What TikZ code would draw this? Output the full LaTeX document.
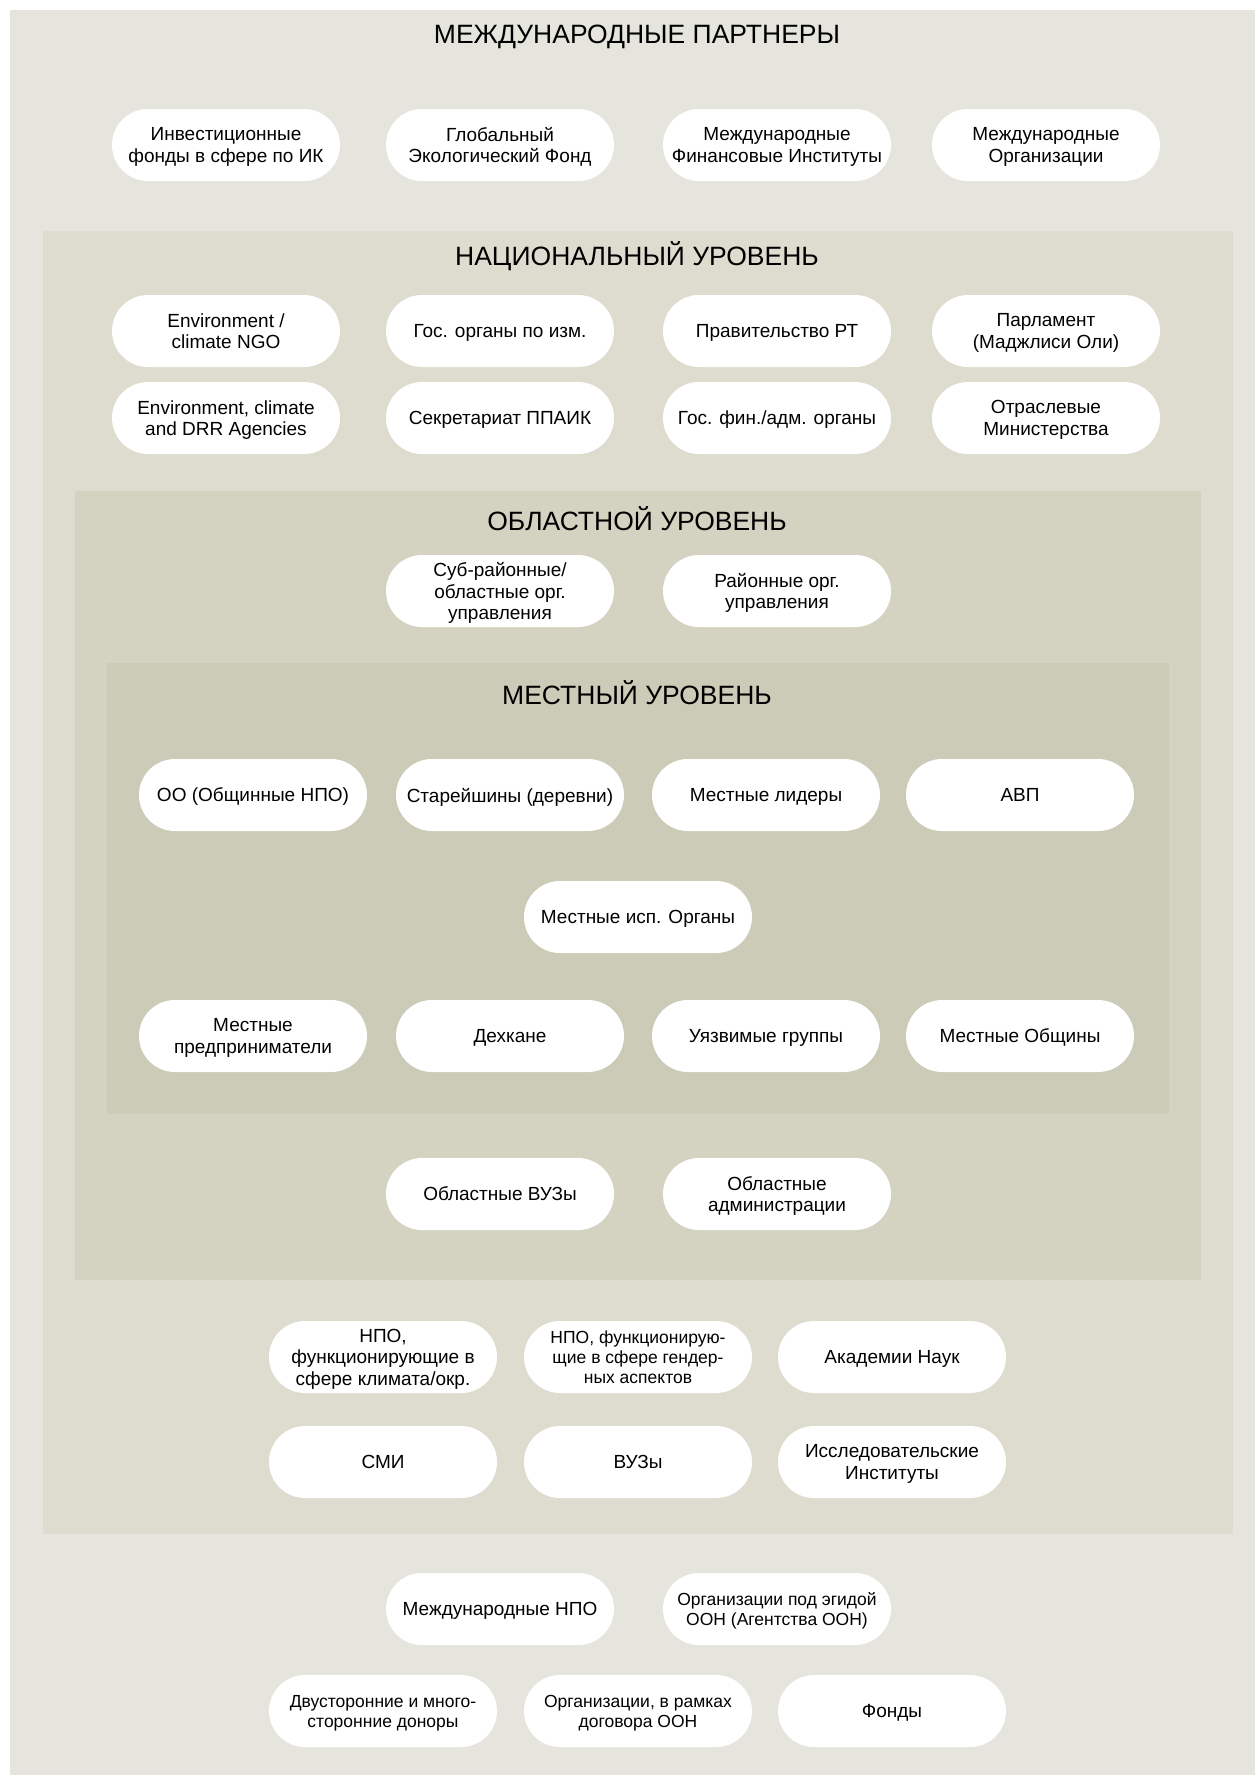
\documentclass[tikz,border=0pt]{standalone}
\usepackage{fontspec}
\setmainfont{Liberation Sans}
\definecolor{intlbg}{HTML}{E5E5DD}
\definecolor{natbg}{HTML}{DDDCCF}
\definecolor{regbg}{HTML}{D4D3C2}
\definecolor{locbg}{HTML}{CCCBB8}
\begin{document}
\begin{tikzpicture}[x=1pt, y=-1pt,
    pill/.style={fill=white, rounded corners=36pt, minimum width=228pt,
      minimum height=72pt, inner sep=2pt, align=center, text depth=0pt,
      font=\fontsize{19}{21.5}\selectfont},
    small/.style={font=\fontsize{17.5}{20}\selectfont},
    leveltitle/.style={font=\fontsize{26.5}{30}\selectfont}]
    \useasboundingbox (0,0) rectangle (1255,1775);
    % Level panels
    \fill[intlbg] (10,10) rectangle (1255,1775);
    \fill[natbg] (43,231) rectangle (1233,1534);
    \fill[regbg] (75,491) rectangle (1201,1280);
    \fill[locbg] (107,663) rectangle (1169,1114);
    % International partners
    \node[leveltitle] (inttitle) at (637,37) {МЕЖДУНАРОДНЫЕ ПАРТНЕРЫ};
    \node[pill] (invest) at (226,145) {Инвестиционные\\фонды в сфере по ИК};
    \node[pill] (gef) at (500,145) {Глобальный\\Экологический Фонд};
    \node[pill] (ifi) at (777,145) {Международные\\Финансовые Институты};
    \node[pill] (intorg) at (1046,145) {Международные\\Организации};
    % National level
    \node[leveltitle] (nattitle) at (637,256) {НАЦИОНАЛЬНЫЙ УРОВЕНЬ};
    \node[pill] (ngo) at (226,331) {Environment /\\climate NGO};
    \node[pill] (govclim) at (500,331) {Гос. органы по изм.};
    \node[pill] (govrt) at (777,331) {Правительство РТ};
    \node[pill] (parl) at (1046,331) {Парламент\\(Маджлиси Оли)};
    \node[pill] (drr) at (226,418) {Environment, climate\\and DRR Agencies};
    \node[pill] (ppaik) at (500,418) {Секретариат ППАИК};
    \node[pill] (govfin) at (777,418) {Гос. фин./адм. органы};
    \node[pill] (minist) at (1046,418) {Отраслевые\\Министерства};
    % Regional level
    \node[leveltitle] (regtitle) at (637,519) {ОБЛАСТНОЙ УРОВЕНЬ};
    \node[pill] (subdist) at (500,591) {Суб-районные/\\областные орг.\\управления};
    \node[pill] (dist) at (777,591) {Районные орг.\\управления};
    % Local level
    \node[leveltitle] (loctitle) at (637,693) {МЕСТНЫЙ УРОВЕНЬ};
    \node[pill] (cbo) at (253,795) {ОО (Общинные НПО)};
    \node[pill] (elders) at (510,795) {Старейшины (деревни)};
    \node[pill] (leaders) at (766,795) {Местные лидеры};
    \node[pill] (wua) at (1020,795) {АВП};
    \node[pill] (locexec) at (638,917) {Местные исп. Органы};
    \node[pill] (entrep) at (253,1036) {Местные\\предприниматели};
    \node[pill] (dehkan) at (510,1036) {Дехкане};
    \node[pill] (vulner) at (766,1036) {Уязвимые группы};
    \node[pill] (commun) at (1020,1036) {Местные Общины};
    % Regional level, lower row
    \node[pill] (reguni) at (500,1194) {Областные ВУЗы};
    \node[pill] (regadm) at (777,1194) {Областные\\администрации};
    % National level, lower rows
    \node[pill] (ngoclim) at (383,1357) {НПО,\\функционирующие в\\сфере климата/окр.};
    \node[pill, small] (ngogend) at (638,1357) {НПО, функционирую-\\щие в сфере гендер-\\ных аспектов};
    \node[pill] (acad) at (892,1357) {Академии Наук};
    \node[pill] (media) at (383,1462) {СМИ};
    \node[pill] (uni) at (638,1462) {ВУЗы};
    \node[pill] (resinst) at (892,1462) {Исследовательские\\Институты};
    % International partners, bottom rows
    \node[pill] (intngo) at (500,1609) {Международные НПО};
    \node[pill, small] (unagen) at (777,1609) {Организации под эгидой\\ООН (Агентства ООН)};
    \node[pill, small] (donors) at (383,1711) {Двусторонние и много-\\сторонние доноры};
    \node[pill, small] (untreaty) at (638,1711) {Организации, в рамках\\договора ООН};
    \node[pill] (funds) at (892,1711) {Фонды};
\end{tikzpicture}
\end{document}
